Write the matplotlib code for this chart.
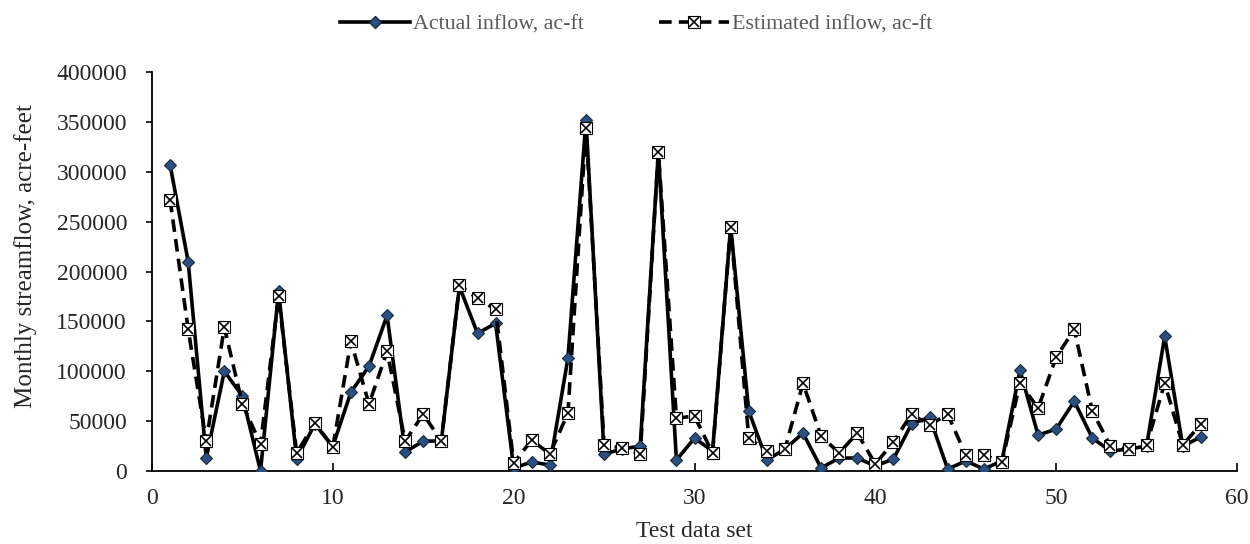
import matplotlib
matplotlib.use("Agg")
import matplotlib.pyplot as plt
from matplotlib.lines import Line2D

test_set = list(range(1, 59))
actual = [307000, 210000, 13000, 100000, 75000, 0, 180000, 12000, 47000, 25000,
          79000, 105000, 156000, 19000, 30000, 30000, 185000, 138000, 148000, 3000,
          9000, 6000, 113000, 352000, 17000, 22000, 25000, 320000, 11000, 33000,
          20000, 245000, 60000, 11000, 22000, 38000, 3000, 13000, 13000, 5000,
          12000, 47000, 54000, 2000, 10000, 2000, 10000, 101000, 36000, 42000,
          70000, 33000, 20000, 22000, 25000, 135000, 25000, 34000]
estimated = [272000, 142000, 30000, 144000, 67000, 27000, 175000, 18000, 48000, 24000,
             130000, 67000, 120000, 30000, 57000, 30000, 186000, 173000, 162000, 8000,
             31000, 17000, 58000, 344000, 26000, 23000, 17000, 320000, 53000, 55000,
             18000, 245000, 33000, 20000, 22000, 88000, 35000, 18000, 38000, 7000,
             29000, 57000, 46000, 57000, 16000, 16000, 9000, 88000, 63000, 114000,
             142000, 60000, 25000, 22000, 26000, 88000, 26000, 47000]
y_ticks = [0, 50000, 100000, 150000, 200000, 250000, 300000, 350000, 400000]
x_ticks = [0, 10, 20, 30, 40, 50, 60]

plt.rcParams['font.family'] = ['Liberation Serif', 'DejaVu Serif']
fig = plt.figure(figsize=(12.5, 5.44), dpi=100)
ax = fig.add_axes([0.1216, 0.1342, 0.868, 0.7334])

mcol = '#2B5080'
ax.plot(test_set, actual, color='black', lw=2.6, marker='D', markersize=6.5,
        markerfacecolor=mcol, markeredgecolor='#1a2a40', markeredgewidth=0.8, zorder=3)
ax.plot(test_set, estimated, color='black', lw=2.6, linestyle=(0, (3.5, 2)),
        marker='s', markersize=9, markerfacecolor='white', markeredgecolor='black',
        markeredgewidth=0.8, zorder=4)
ax.plot(test_set, estimated, linestyle='none', marker='x', markersize=7,
        markeredgecolor='black', markeredgewidth=1.2, zorder=5)

fs = 17
ax.set_xlim(0, 60)
ax.set_ylim(0, 400000)
ax.set_xticks(x_ticks)
ax.set_yticks(y_ticks)
for s in ['top', 'right']:
    ax.spines[s].set_visible(False)
for s in ['left', 'bottom']:
    ax.spines[s].set_linewidth(1.3)
    ax.spines[s].set_color('black')
ax.tick_params(axis='y', direction='out', length=4, width=1.2, labelsize=fs,
               labelcolor='#262626', pad=14)
ax.tick_params(axis='x', direction='in', length=6, width=1.2, labelsize=fs,
               labelcolor='#262626', pad=12)
ax.set_xlabel('Test data set', fontsize=fs, color='#262626', labelpad=9)
ax.set_ylabel('Monthly streamflow, acre-feet', fontsize=18, color='#262626')
ax.yaxis.set_label_coords(-0.106, 0.539)

h1 = Line2D([], [], color='black', lw=2.6, marker='D', markersize=6.5,
            markerfacecolor=mcol, markeredgecolor='#1a2a40')
h2 = Line2D([], [], color='black', lw=2.6, linestyle=(0, (3.5, 2)), marker='s',
            markersize=9, markerfacecolor='white', markeredgecolor='black', markeredgewidth=0.8)
h3 = Line2D([], [], linestyle='none', marker='x', markersize=7,
            markeredgecolor='black', markeredgewidth=1.2)
leg = fig.legend([h1, (h2, h3)], ['Actual inflow, ac-ft', 'Estimated inflow, ac-ft'],
                 loc='upper center', bbox_to_anchor=(0.509, 1.01), ncol=2, frameon=False,
                 fontsize=15.8, handlelength=3.2, columnspacing=3.4, handletextpad=0.15)
for t in leg.get_texts():
    t.set_color('#595959')

fig.savefig('out.png', dpi=100)
